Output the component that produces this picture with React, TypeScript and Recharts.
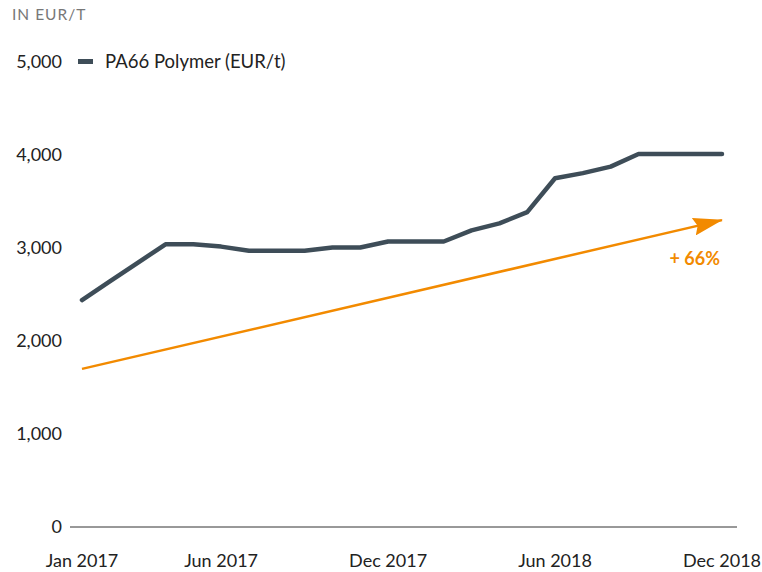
import { LineChart, Line, XAxis, YAxis } from "recharts"

const months = [
  "Jan 2017", "Feb 2017", "Mar 2017", "Apr 2017", "May 2017", "Jun 2017",
  "Jul 2017", "Aug 2017", "Sep 2017", "Oct 2017", "Nov 2017", "Dec 2017",
  "Jan 2018", "Feb 2018", "Mar 2018", "Apr 2018", "May 2018", "Jun 2018",
  "Jul 2018", "Aug 2018", "Sep 2018", "Oct 2018", "Nov 2018", "Dec 2018",
]

// PA66 polymer price, EUR per tonne
const pa66 = [
  2440, 2640, 2840, 3040, 3040, 3015, 2970, 2970, 2970, 3005, 3005, 3070,
  3070, 3070, 3190, 3265, 3385, 3750, 3805, 3875, 4010, 4010, 4010, 4010,
]

// trend arrow: only start and end
const trend: (number | null)[] = months.map((_, i) => (i === 0 ? 1700 : i === months.length - 1 ? 3300 : null))

const xTicks = ["Jan 2017", "Jun 2017", "Dec 2017", "Jun 2018", "Dec 2018"]
const yTicks = [0, 1000, 2000, 3000, 4000, 5000]
const trendLabel = "+ 66%"
const seriesName = "PA66 Polymer (EUR/t)"

const data = months.map((m, i) => ({ month: m, pa66: pa66[i], trend: trend[i] }))

const FONT = "Lato, 'Noto Sans', sans-serif"
const DARK = "#3e4d58"
const ORANGE = "#f28a00"

export default function App() {
  return (
    <div style={{ position: "absolute", left: 0, top: 0, width: 762, height: 572, background: "#fff" }}>
      <div
        style={{
          position: "absolute",
          left: 12,
          top: 5,
          fontFamily: FONT,
          fontSize: 15.5,
          letterSpacing: 1,
          color: "#777",
        }}
      >
        IN EUR/T
      </div>
      {/* legend sits on the 5,000 row */}
      <div
        style={{
          position: "absolute",
          left: 78,
          top: 50,
          display: "flex",
          alignItems: "center",
          fontFamily: FONT,
          fontSize: 18.5,
          color: "#222",
          whiteSpace: "nowrap",
        }}
      >
        <span style={{ display: "inline-block", width: 15, height: 5, background: DARK, marginRight: 12 }} />
        {seriesName}
      </div>
      <LineChart width={762} height={572} data={data} margin={{ top: 62, right: 25, bottom: 15, left: 0 }}>
        <defs>
          <marker id="arrowHead" markerWidth="30" markerHeight="18" refX="29" refY="9" orient="auto" markerUnits="userSpaceOnUse">
            <path d="M0,0 L30,9 L0,18 L4,9 Z" fill={ORANGE} />
          </marker>
        </defs>
        <XAxis
          dataKey="month"
          ticks={xTicks}
          interval={0}
          padding={{ left: 12, right: 15 }}
          tickLine={false}
          tickSize={0}
          tickMargin={27}
          height={30}
          axisLine={{ stroke: "#333", strokeWidth: 1 }}
          tick={{ fontFamily: FONT, fontSize: 18, fill: "#222" }}
        />
        <YAxis
          domain={[0, 5000]}
          ticks={yTicks}
          width={70}
          axisLine={false}
          tickLine={false}
          tickSize={0}
          tickMargin={8}
          tickFormatter={(v: number) => v.toLocaleString("en-US")}
          tick={{ fontFamily: FONT, fontSize: 18, fill: "#222" }}
        />
        <Line
          dataKey="trend"
          connectNulls
          stroke={ORANGE}
          strokeWidth={2.5}
          dot={false}
          activeDot={false}
          legendType="none"
          markerEnd="url(#arrowHead)"
          isAnimationActive={false}
          label={(p: any) =>
            p.index === months.length - 1 ? (
              <text
                key="trend-label"
                x={p.x - 2}
                y={p.y + 45}
                textAnchor="end"
                fontFamily={FONT}
                fontSize={18}
                fontWeight={700}
                fill={ORANGE}
              >
                {trendLabel}
              </text>
            ) : null
          }
        />
        <Line
          dataKey="pa66"
          stroke={DARK}
          strokeWidth={4.5}
          strokeLinecap="round"
          strokeLinejoin="round"
          dot={false}
          activeDot={false}
          isAnimationActive={false}
        />
      </LineChart>
    </div>
  )
}
